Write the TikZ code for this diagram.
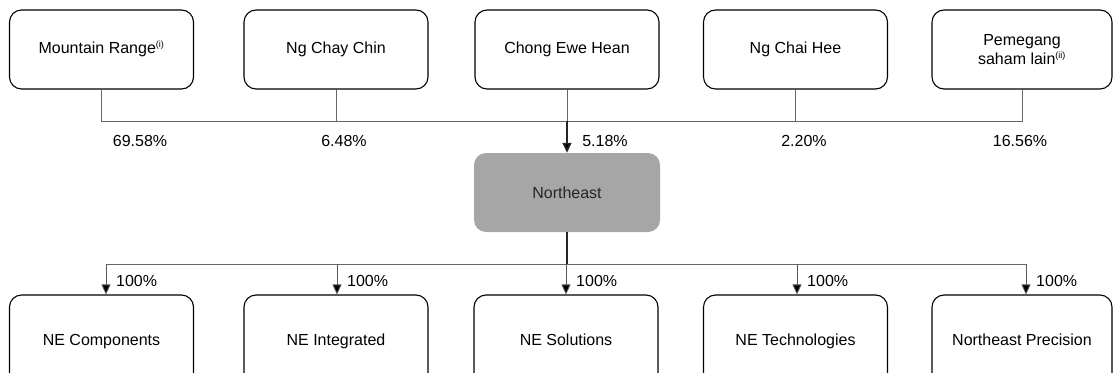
\documentclass[tikz,border=0pt]{standalone}
\usepackage{fontspec}
\setmainfont{Liberation Sans}
\usetikzlibrary{arrows.meta}
\begin{document}
\begin{tikzpicture}[x=1pt,y=-1pt,
  box/.style={draw=black, line width=1.1pt, rounded corners=12pt, minimum width=184pt, minimum height=79pt, inner sep=0pt, align=center, text height=11.5pt, text depth=3pt, font=\fontsize{16}{19}\selectfont},
  corebox/.style={fill=black!35, draw=none, rounded corners=12pt, minimum width=186pt, minimum height=79pt, inner sep=0pt, font=\fontsize{16}{19}\selectfont, text=black!85},
  thin/.style={draw=black!60, line width=0.8pt},
  thick/.style={draw=black!85, line width=1.6pt},
  tip/.style={-{Triangle[length=10pt,width=9pt,fill=black]}},
  arr/.style={draw=black!65, line width=0.8pt, tip},
  pct/.style={font=\fontsize{16}{19}\selectfont, inner sep=0pt},
  sup/.style={}
]
\newcommand{\supmark}[1]{\textsuperscript{\fontsize{9}{9}\selectfont #1}}
\useasboundingbox (0,0) rectangle (1113,372);
% top row
\node[box] (m1) at (101.5,49.5) {Mountain Range\supmark{(i)}};
\node[box] (m2) at (336,49.5) {Ng Chay Chin};
\node[box] (m3) at (567,49.5) {Chong Ewe Hean};
\node[box] (m4) at (795.5,49.5) {Ng Chai Hee};
\node[box, minimum width=180pt, text height=, text depth=] (m5) at (1022,49.5) {Pemegang\\saham lain\supmark{(ii)}};
% core
\node[corebox] (ne) at (567,192.5) {Northeast};
% bottom row (cut off by the lower edge)
\node[box, minimum height=92pt] (c1) at (101.5,341) {NE Components};
\node[box, minimum height=92pt] (c2) at (336,341) {NE Integrated};
\node[box, minimum height=92pt] (c3) at (566,341) {NE Solutions};
\node[box, minimum height=92pt] (c4) at (795.5,341) {NE Technologies};
\node[box, minimum height=92pt, minimum width=180pt] (c5) at (1022,341) {Northeast Precision};
% buses
\coordinate (bus) at (0,121);
\coordinate (bus2) at (0,264);
\draw[thin] (m1.south) -- (m1.south |- bus) -- (m5.south |- bus) -- (m5.south);
\draw[thin] (m2.south) -- (m2.south |- bus);
\draw[thin] (m3.south) -- (m3.south |- bus);
\draw[thin] (m4.south) -- (m4.south |- bus);
\draw[thick, tip] (m3.south |- bus) -- (ne.north);
\draw[thick] (ne.south) -- (ne.south |- bus2);
\foreach \c/\s in {c1/4.5,c2/1,c3/0,c4/1.5,c5/4}{
  \coordinate (\c t) at ([xshift=\s pt]\c.north);
}
\draw[thin] (c1t |- bus2) -- (c5t |- bus2);
\foreach \c in {c1,c2,c3,c4,c5}{
  \draw[arr] (\c t |- bus2) -- (\c t);
}
% ownership labels
\node[pct] (p1) at (140,141) {69.58\%};
\node[pct] (p2) at (344,141) {6.48\%};
\node[pct] (p3) at (605,141) {5.18\%};
\node[pct] (p4) at (804,141) {2.20\%};
\node[pct] (p5) at (1020,141) {16.56\%};
\foreach \c/\n in {c1/q1,c2/q2,c3/q3,c4/q4,c5/q5}{
  \node[pct, anchor=west] (\n) at ([xshift=10pt]\c t |- 0,281) {100\%};
}
\end{tikzpicture}
\end{document}
